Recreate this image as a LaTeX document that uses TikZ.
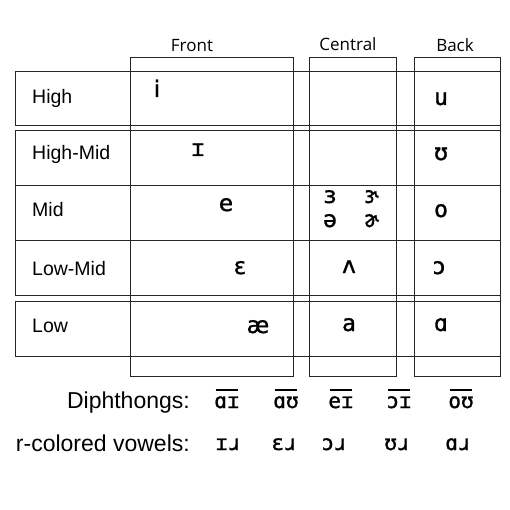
\documentclass[tikz,border=0pt]{standalone}
\usepackage{fontspec}
\setmainfont{Liberation Sans}
\newfontfamily\hdrfont{Open Sans}
\newfontfamily\ipafont[FakeBold=1.2]{DejaVu Sans}
\newfontfamily\ipamono[FakeBold=1.2]{DejaVu Sans Mono}
\begin{document}
\begin{tikzpicture}[x=1pt,y=-1pt,
  box/.style={draw=black!85,line width=0.8pt},
  rowlab/.style={anchor=base west,inner sep=0pt,font=\fontsize{19.5}{21}\selectfont},
  collab/.style={anchor=base,inner sep=0pt,font=\hdrfont\fontsize{17}{19}\selectfont},
  vow/.style={anchor=base,inner sep=0pt,font=\ipamono\fontsize{23}{25}\selectfont},
  vowf/.style={anchor=base,inner sep=0pt,font=\ipafont\fontsize{23}{25}\selectfont},
  biglab/.style={anchor=base east,inner sep=0pt,font=\fontsize{23}{25}\selectfont},
  dip/.style={anchor=base,inner sep=0pt,font=\ipamono\fontsize{21}{23}\selectfont},
  tie/.style={draw=black,line width=1.2pt}]
\useasboundingbox (0,0) rectangle (510,510);
% columns
\draw[box] (130,57) rectangle (293,376);
\draw[box] (309,57) rectangle (396,376);
\draw[box] (414,57) rectangle (500,376);
% rows
\draw[box] (15,71) rectangle (500,125);
\draw[box] (15,130) rectangle (500,185);
\draw[box] (15,185) rectangle (500,240);
\draw[box] (15,240) rectangle (500,295);
\draw[box] (15,301) rectangle (500,356);
% column labels
\node[collab] (cFront) at (192,52) {Front};
\node[collab] (cCentral) at (348,51) {Central};
\node[collab] (cBack) at (455,52) {Back};
% row labels
\node[rowlab] (rHigh) at (32,104) {High};
\node[rowlab] (rHighMid) at (32,160) {High-Mid};
\node[rowlab] (rMid) at (32,217) {Mid};
\node[rowlab] (rLowMid) at (32,275) {Low-Mid};
\node[rowlab] (rLow) at (32,332) {Low};
% vowels
\node[vowf] (vi) at (157,97) {i};
\node[vow] (vI) at (198,156) {ɪ};
\node[vowf] (ve) at (226,211) {e};
\node[vowf] (veps) at (240,274) {ɛ};
\node[vowf] (vae) at (258,333) {æ};
\node[vow] (vrev) at (330,203) {ɜ};
\node[vow] (vrevr) at (372,203) {ɝ};
\node[vow] (vschwa) at (330,227) {ə};
\node[vow] (vschwar) at (372,227) {ɚ};
\node[vow] (vwedge) at (349,273) {ʌ};
\node[vow] (va) at (349,331) {a};
\node[vow] (vu) at (441,105) {u};
\node[vow] (vU) at (441,160) {ʊ};
\node[vow] (vo) at (441,217) {o};
\node[vow] (vopen) at (439,274) {ɔ};
\node[vow] (vscript) at (441,331) {ɑ};
% bottom labels
\node[biglab] (lDiph) at (190,408) {Diphthongs:};
\node[biglab] (lRcol) at (190,451) {r-colored vowels:};
% diphthongs
\node[dip] (d1) at (227,408) {ɑɪ};
\node[dip] (d2) at (286,408) {ɑʊ};
\node[dip] (d3) at (341,408) {eɪ};
\node[dip] (d4) at (399,408) {ɔɪ};
\node[dip] (d5) at (461,408) {oʊ};
\foreach \d in {d1,d2,d3,d4,d5}
  \draw[tie] ([xshift=1.5pt,yshift=6pt]\d.north west) -- ([xshift=-1.5pt,yshift=6pt]\d.north east);
% r-colored
\node[dip] (r1) at (228,450) {ɪɹ};
\node[dip] (r2) at (284,450) {ɛɹ};
\node[dip] (r3) at (334,450) {ɔɹ};
\node[dip] (r4) at (397,450) {ʊɹ};
\node[dip] (r5) at (458,450) {ɑɹ};
\end{tikzpicture}
\end{document}
